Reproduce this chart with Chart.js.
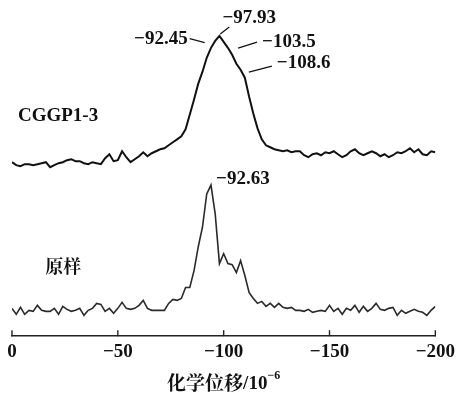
<!DOCTYPE html>
<html>
<head>
<meta charset="utf-8">
<script src="https://cdn.jsdelivr.net/npm/chart.js@4.4.1/dist/chart.umd.min.js"></script>
<style>
html,body{margin:0;padding:0;background:#fff;}
#wrap{width:459px;height:395px;position:relative;}
</style>
</head>
<body>
<div id="wrap"><canvas id="c" width="459" height="395"></canvas></div>
<script>
// chemical shift (10^-6), every 2 units
const shifts = [0,-2,-4,-6,-8,-10,-12,-14,-16,-18,-20,-22,-24,-26,-28,-30,-32,-34,-36,-38,-40,-42,-44,-46,-48,-50,-52,-54,-56,-58,-60,-62,-64,-66,-68,-70,-72,-74,-76,-78,-80,-82,-84,-86,-88,-90,-92,-94,-96,-98,-100,-102,-104,-106,-108,-110,-112,-114,-116,-118,-120,-122,-124,-126,-128,-130,-132,-134,-136,-138,-140,-142,-144,-146,-148,-150,-152,-154,-156,-158,-160,-162,-164,-166,-168,-170,-172,-174,-176,-178,-180,-182,-184,-186,-188,-190,-192,-194,-196,-198,-200];

// stacked intensities (a.u.)
const cggpValues = [175,172,171,173,173,172,173,174,175,170,
  172,174,175,177,178,176,176,174,173,175,
  174,173,179,183,176,177,186,180,175,178,
  181,185,181,184,186,188,189,192,195,198,
  201,208,223,238,254,266,280,290,297,302,
  296,290,283,274,268,260,241,224,209,198,
  192,190,188,187,186,187,185,186,186,182,
  180,183,184,182,185,184,186,183,180,182,
  186,188,184,182,184,186,184,181,183,180,
  182,185,184,186,189,185,188,183,182,186,185];

const rawValues = [28,22,29,22,26,25,31,26,25,25,
  28,22,30,27,25,26,28,21,26,28,
  33,32,25,28,23,28,34,28,27,28,
  31,36,28,26,26,26,26,33,37,36,
  38,49,49,66,90,110,143,152,123,73,
  83,73,72,64,76,61,44,38,33,35,
  30,33,29,33,29,28,29,26,26,25,
  27,24,25,26,25,31,25,28,22,28,
  26,31,24,30,25,28,33,27,26,28,
  29,21,26,23,25,27,25,24,21,26,30];

const tickValues = [0,-50,-100,-150,-200];
const seriesNames = ['CGGP1-3','原样'];
const peakLabels = ['−92.45','−97.93','−103.5','−108.6'];
const peakShifts = [-92.45,-97.93,-103.5,-108.6];
const rawPeakLabel = '−92.63';
const rawPeakShift = -92.63;
const axisTitleSup = '−6';

function fmt(v){ return v === 0 ? '0' : '−' + Math.abs(v); }
function interp(xs, ys, x){
  for (let i=0;i<xs.length-1;i++){
    const a=xs[i], b=xs[i+1];
    if ((x<=a && x>=b)){ const t=(x-a)/(b-a); return ys[i]+(ys[i+1]-ys[i])*t; }
  }
  return ys[ys.length-1];
}

const SERIF = "'Liberation Serif','Times New Roman',serif";
const CJK = "'Noto Serif CJK SC','Noto Sans CJK SC','Liberation Serif',serif";

const labelLayout = [
  {line:[-18,-17,-3,-13], tx:-20, ty:-16, align:'right'},
  {line:[1,-2,10,-9], tx:30, ty:-18, align:'center'},
  {line:[7,-5,26,-11], tx:31, ty:-11, align:'left'},
  {line:[7,0,30,-6], tx:35, ty:-9, align:'left'}
];

const annot = {
  id:'annot',
  afterDatasetsDraw(chart){
    const ctx = chart.ctx, xs = chart.scales.x, ys = chart.scales.y;
    ctx.save();
    ctx.fillStyle = '#111';
    ctx.strokeStyle = '#111';
    ctx.lineWidth = 1.2;
    ctx.font = 'bold 19px ' + SERIF;
    ctx.textBaseline = 'middle';
    peakShifts.forEach((s,i)=>{
      const ax = xs.getPixelForValue(s);
      const ay = ys.getPixelForValue(interp(shifts, cggpValues, s));
      const L = labelLayout[i];
      ctx.beginPath();
      ctx.moveTo(ax+L.line[0], ay+L.line[1]);
      ctx.lineTo(ax+L.line[2], ay+L.line[3]);
      ctx.stroke();
      ctx.textAlign = L.align;
      ctx.fillText(peakLabels[i], ax+L.tx, ay+L.ty);
    });
    const rmax = Math.max(...rawValues);
    const rx = xs.getPixelForValue(rawPeakShift);
    const ry = ys.getPixelForValue(rmax);
    ctx.textAlign = 'left';
    ctx.fillText(rawPeakLabel, rx+8, ry-6);
    ctx.font = 'bold 19px ' + SERIF;
    ctx.fillText(seriesNames[0], xs.getPixelForValue(-2.8), ys.getPixelForValue(221));
    ctx.font = 'bold 18px ' + CJK;
    ctx.fillText(seriesNames[1], xs.getPixelForValue(-15.7), ys.getPixelForValue(70));
    ctx.lineWidth = 1.4;
    ctx.strokeStyle = '#222';
    const yb = chart.chartArea.bottom;
    tickValues.forEach(v=>{
      const px = xs.getPixelForValue(v);
      ctx.beginPath(); ctx.moveTo(px, yb); ctx.lineTo(px, yb-6); ctx.stroke();
    });
    ctx.textAlign = 'left';
    ctx.textBaseline = 'alphabetic';
    ctx.font = 'bold 19px ' + CJK;
    const mainW = ctx.measureText('化学位移').width;
    ctx.font = 'bold 19px ' + SERIF;
    const restW = ctx.measureText('/10').width;
    ctx.font = 'bold 12px ' + SERIF;
    const supW = ctx.measureText(axisTitleSup).width;
    const total = mainW + restW + supW;
    const cx = (chart.chartArea.left + chart.chartArea.right)/2;
    let x0 = cx - total/2;
    const base = 390;
    ctx.font = 'bold 19px ' + CJK;
    ctx.fillText('化学位移', x0, base);
    ctx.font = 'bold 19px ' + SERIF;
    ctx.fillText('/10', x0+mainW, base-1);
    ctx.font = 'bold 12px ' + SERIF;
    ctx.fillText(axisTitleSup, x0+mainW+restW, base-11);
    ctx.restore();
  }
};

new Chart(document.getElementById('c'), {
  type:'line',
  data:{
    datasets:[
      {label:seriesNames[0], data:shifts.map((s,i)=>({x:s,y:cggpValues[i]})),
       borderColor:'#111', borderWidth:2, pointRadius:0, tension:0, fill:false},
      {label:seriesNames[1], data:shifts.map((s,i)=>({x:s,y:rawValues[i]})),
       borderColor:'#2a2a2a', borderWidth:1.6, pointRadius:0, tension:0, fill:false}
    ]
  },
  options:{
    responsive:false,
    animation:false,
    layout:{padding:{left:12, right:17, top:20, bottom:28}},
    plugins:{legend:{display:false}, tooltip:{enabled:false}},
    scales:{
      x:{
        type:'linear', min:-200, max:0, reverse:true,
        afterBuildTicks(scale){ scale.ticks = tickValues.map(v=>({value:v})); },
        ticks:{ callback:(v)=>fmt(v), color:'#111', padding:4,
          font:{family:SERIF, size:19, weight:'bold'}, maxRotation:0, autoSkip:false },
        grid:{display:true, drawOnChartArea:false, drawTicks:false},
        border:{display:true, color:'#222', width:1.5}
      },
      y:{ display:false, min:0, max:318 }
    }
  },
  plugins:[annot]
});
</script>
</body>
</html>
